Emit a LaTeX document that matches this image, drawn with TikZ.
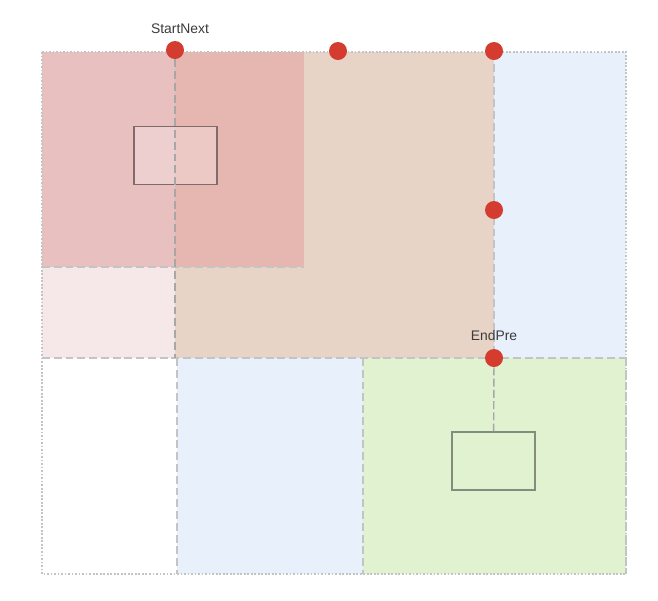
\documentclass[tikz,border=0pt]{standalone}
\usepackage{fontspec}
\setmainfont{Liberation Sans}
\usepackage{xcolor}
\usetikzlibrary{positioning}

\definecolor{tileRed}{RGB}{233,192,192}
\definecolor{tileRedDeep}{RGB}{230,183,177}
\definecolor{tileTan}{RGB}{232,212,198}
\definecolor{tilePink}{RGB}{246,231,232}
\definecolor{tileBlue}{RGB}{232,240,252}
\definecolor{tileGreen}{RGB}{224,242,208}
\definecolor{dotRed}{RGB}{212,60,48}
\definecolor{edgeGray}{RGB}{196,196,196}
\definecolor{textGray}{RGB}{60,60,60}

\begin{document}
\begin{tikzpicture}[
    x=0.02cm, y=-0.02cm,
    tile/.style={draw=edgeGray, dash pattern=on 4.5pt off 2.2pt, line width=0.8pt},
    outer/.style={draw=edgeGray, dash pattern=on 1pt off 1pt, line width=0.8pt},
    guide/.style={draw=edgeGray!85!black, dash pattern=on 4.5pt off 2.2pt, line width=0.8pt},
    marker/.style={circle, fill=dotRed, draw=none, minimum size=0.36cm, inner sep=0pt},
    probe/.style={rectangle, draw, line width=1pt, minimum width=1.66cm, minimum height=1.16cm, inner sep=0pt},
    lbl/.style={text=textGray, font=\fontsize{7.9}{9}\selectfont, inner sep=1pt}
]
\useasboundingbox (0,0) rectangle (658,600);

% background tiles
\fill[tileBlue] (494,52) rectangle (626,358);
\fill[tileBlue] (177,358) rectangle (363,574);
\fill[tileGreen] (363,358) rectangle (626,574);
\fill[tilePink] (42,267) rectangle (175,358);
\fill[tileTan] (175,52) rectangle (494,358);
\fill[tileRed] (42,52) rectangle (304,267);
\fill[tileRedDeep] (175,52) rectangle (304,267);

% tile edges
\draw[tile] (42,267) -- (304,267);
\draw[tile] (42,358) -- (626,358);
\draw[tile] (494,52) -- (494,358);
\draw[tile] (363,358) -- (363,574);
\draw[tile] (177,358) -- (177,574);
\draw[tile] (626,358) -- (626,574);
\draw[outer] (42,52) rectangle (626,574);

% probe windows
\node[probe, draw=black!45!tileRed, fill=white, fill opacity=0.25] (probeA) at (175.5,155.5) {};
\node[probe, draw=black!40!tileGreen!70!gray] (probeB) at (493.5,461) {};

% markers
\node[marker] (startnext) at (175,50) {};
\node[marker] (topmid) at (338,51) {};
\node[marker] (topright) at (494,51) {};
\node[marker] (midright) at (494,210) {};
\node[marker] (endpre) at (494,358) {};
\coordinate (splitbot) at (175,358);

\node[lbl, above=0.1cm of startnext, xshift=0.1cm] {StartNext};
\node[lbl, above=0.12cm of endpre] {EndPre};

\draw[guide] (startnext) -- (splitbot);
\draw[guide, dash pattern=on 4.5pt off 1.9pt] (endpre) -- (probeB);

\end{tikzpicture}
\end{document}
